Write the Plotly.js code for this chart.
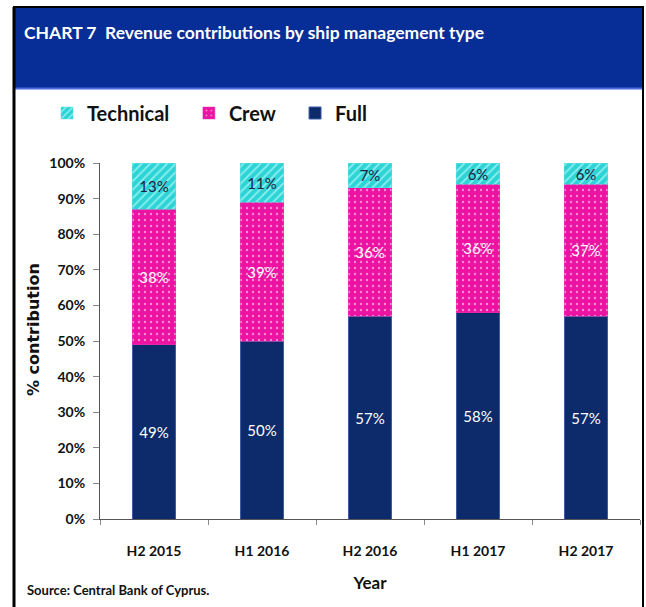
<!DOCTYPE html>
<html>
<head>
<meta charset="utf-8">
<script src="https://cdn.plot.ly/plotly-3.0.1.min.js"></script>
<style>
html,body{margin:0;padding:0;background:#fff;}
#chart{width:646px;height:607px;}
</style>
</head>
<body>
<div id="chart"></div>
<script>
const categories = ["H2 2015", "H1 2016", "H2 2016", "H1 2017", "H2 2017"];
const fullValues = [49, 50, 57, 58, 57];
const crewValues = [38, 39, 36, 36, 37];
const technicalValues = [13, 11, 7, 6, 6];
const yTickValues = [0, 10, 20, 30, 40, 50, 60, 70, 80, 90, 100];
const yTickLabels = ["0%", "10%", "20%", "30%", "40%", "50%", "60%", "70%", "80%", "90%", "100%"];

const FONT = 'Lato, "Open Sans", sans-serif';

// pixel helpers -> paper coordinates (plot area: x 100..640, y 163..519)
const PL = 100, PR = 640, PT = 163, PB = 519;
const px = v => (v - PL) / (PR - PL);
const py = v => (PB - v) / (PB - PT);
const pct = arr => arr.map(v => v + '%');
const pad = '\u00a0\u00a0\u00a0';

const traces = [
  {
    type: 'bar', name: 'Full' + pad, x: categories, y: fullValues,
    width: 0.40,
    marker: { color: '#0D2A6B', line: { color: '#3D5CA6', width: 1 } },
    text: pct(fullValues), textposition: 'inside', insidetextanchor: 'middle', textangle: 0,
    textfont: { family: FONT, size: 15, color: '#FFFFFF' },
    constraintext: 'none'
  },
  {
    type: 'bar', name: 'Crew' + pad, x: categories, y: crewValues,
    width: 0.40,
    marker: { color: '#EC12A2', line: { color: '#E23AAE', width: 0.5 },
      pattern: { shape: '.', bgcolor: '#EC12A2', fgcolor: '#F98AD0', size: 6, solidity: 0.12 } },
    text: pct(crewValues), textposition: 'inside', insidetextanchor: 'middle', textangle: 0,
    textfont: { family: FONT, size: 15, color: '#FFFFFF' },
    constraintext: 'none'
  },
  {
    type: 'bar', name: 'Technical' + pad, x: categories, y: technicalValues,
    width: 0.40,
    marker: { color: '#2ED3D6', line: { color: '#5FE0E0', width: 0.5 },
      pattern: { shape: '/', bgcolor: '#2ED3D6', fgcolor: '#8CF0F0', size: 6, solidity: 0.3 } },
    text: pct(technicalValues), textposition: 'inside', insidetextanchor: 'middle', textangle: 0,
    textfont: { family: FONT, size: 15, color: '#1B2340' },
    constraintext: 'none'
  }
];

const layout = {
  width: 646, height: 607,
  margin: { l: PL, r: 646 - PR, t: PT, b: 607 - PB, pad: 0 },
  paper_bgcolor: '#FFFFFF', plot_bgcolor: '#FFFFFF',
  barmode: 'stack',
  font: { family: FONT, color: '#1a1a1a' },
  showlegend: true,
  legend: {
    orientation: 'h', traceorder: 'reversed',
    x: px(47), y: py(113), xanchor: 'left', yanchor: 'middle',
    font: { family: FONT, size: 20, color: '#111111', weight: 'bold' },
    bgcolor: 'rgba(0,0,0,0)', itemwidth: 30
  },
  xaxis: {
    type: 'category', range: [-0.5, 4.5],
    showline: true, linecolor: '#555555', linewidth: 1,
    ticks: 'outside', ticklen: 5, tickcolor: '#888888', tickson: 'boundaries',
    tickfont: { family: FONT, size: 14, color: '#111111', weight: 'bold' },
    ticklabelstandoff: 19,
    showgrid: false, zeroline: false, automargin: false,
    title: { text: 'Year', font: { family: FONT, size: 17, color: '#111111', weight: 'bold' }, standoff: 19 }
  },
  yaxis: {
    range: [0, 100],
    tickvals: yTickValues, ticktext: yTickLabels,
    showline: true, linecolor: '#555555', linewidth: 1,
    ticks: 'outside', ticklen: 6, tickcolor: '#888888',
    tickfont: { family: FONT, size: 14, color: '#111111', weight: 'bold' },
    ticklabelstandoff: 5,
    showgrid: false, zeroline: false, automargin: false
  },
  shapes: [
    { type: 'rect', xref: 'paper', yref: 'paper', x0: px(14), x1: px(643), y0: py(88), y1: py(8),
      fillcolor: '#062E96', line: { width: 0 }, layer: 'below' },
    { type: 'line', xref: 'paper', yref: 'paper', x0: px(14), x1: px(643), y0: py(88.5), y1: py(88.5),
      line: { color: '#4A6AE0', width: 2 } },
    { type: 'line', xref: 'paper', yref: 'paper', x0: px(14), x1: px(14), y0: py(7), y1: py(610),
      line: { color: '#000000', width: 3 } },
    { type: 'line', xref: 'paper', yref: 'paper', x0: px(13), x1: px(644), y0: py(7), y1: py(7),
      line: { color: '#000000', width: 2 } },
    { type: 'line', xref: 'paper', yref: 'paper', x0: px(643), x1: px(643), y0: py(7), y1: py(610),
      line: { color: '#000000', width: 2 } }
  ],
  annotations: [
    { xref: 'paper', yref: 'paper', x: px(22), y: py(32), xanchor: 'left', yanchor: 'middle',
      text: 'CHART 7  Revenue contributions by ship management type', showarrow: false,
      font: { family: FONT, size: 17.5, color: '#FFFFFF', weight: 'bold' } },
    { xref: 'paper', yref: 'paper', x: px(33), y: py(330), xanchor: 'center', yanchor: 'middle',
      text: '% contribution', showarrow: false, textangle: -90,
      font: { family: '"DejaVu Sans", sans-serif', size: 16, color: '#111111', weight: 'bold' } },
    { xref: 'paper', yref: 'paper', x: px(25), y: py(590), xanchor: 'left', yanchor: 'middle',
      text: 'Source: Central Bank of Cyprus.', showarrow: false,
      font: { family: FONT, size: 13, color: '#111111', weight: 'bold' } }
  ]
};

Plotly.newPlot('chart', traces, layout, { displayModeBar: false, staticPlot: true });
</script>
</body>
</html>
